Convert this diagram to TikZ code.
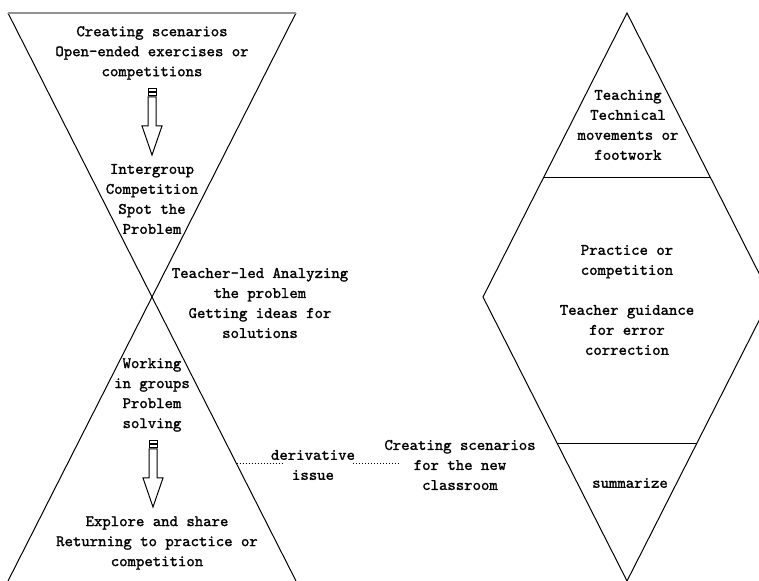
\documentclass[tikz,border=0pt]{standalone}
\usepackage{fontspec}
\newfontfamily\lblfont{lmmono10-regular.otf}[FakeBold=1.4]
\usetikzlibrary{calc}

\tikzset{
  lbl/.style={font=\lblfont\fontsize{8}{10}\selectfont, align=center, inner sep=0pt},
  edge/.style={line width=0.5pt},
}

\begin{document}
\begin{tikzpicture}[x=0.5pt, y=-0.5pt]
  \useasboundingbox (0,0) rectangle (759,581);
  \clip (0,0) rectangle (759,581);
  % hourglass
  \coordinate (tl) at (8,13);
  \coordinate (tr) at (296,13);
  \coordinate (mid) at (152,297);
  \coordinate (bl) at (8,581);
  \coordinate (br) at (296,581);
  \draw[edge] (tl) -- (br);
  \draw[edge] (tr) -- (bl);
  \draw[gray!85, line width=1.1pt] (tl) -- (tr);
  % rhombus
  \coordinate (top) at (627,13);
  \coordinate (lft) at (483,297);
  \coordinate (bot) at (627,581);
  \coordinate (rgt) at (771,297);
  \draw[edge] (top) -- (lft) -- (bot) -- (rgt) -- cycle;
  \draw[edge] ($(top)!165/284!(lft)$) -- ($(top)!165/284!(rgt)$);
  \draw[edge] ($(bot)!138/284!(lft)$) -- ($(bot)!138/284!(rgt)$);
  % block arrows
  \foreach \ax/\ay in {152/89, 153/441} {
    \draw[edge] (\ax-4,\ay) rectangle (\ax+4,\ay+2.5);
    \draw[edge] (\ax-4,\ay+4) rectangle (\ax+4,\ay+7);
    \draw[edge] (\ax-4,\ay+8) -- (\ax-4,\ay+37) -- (\ax-10,\ay+37) -- (\ax,\ay+66)
      -- (\ax+10,\ay+37) -- (\ax+4,\ay+37) -- (\ax+4,\ay+8) -- cycle;
  }
  % texts
  \node[lbl] (scen) at (152,53) {Creating scenarios\\Open-ended exercises or\\competitions};
  \node[lbl] (inter) at (152,199) {Intergroup\\Competition\\Spot the\\Problem};
  \node[lbl] (lead) at (260,303) {Teacher-led Analyzing\\the problem\\Getting ideas for\\solutions};
  \node[lbl] (work) at (152,395) {Working\\in groups\\Problem\\solving};
  \node[lbl] (share) at (157,543) {Explore and share\\Returning to practice or\\competition};
  \node[lbl] (deriv) at (313,465) {derivative\\issue};
  \node[lbl] (newcls) at (460,465) {Creating scenarios\\for the new\\classroom};
  \node[lbl] (teach) at (628,125) {Teaching\\Technical\\movements or\\footwork};
  \node[lbl] (pract) at (627,300) {Practice or\\competition\\[10pt]Teacher guidance\\for error\\correction};
  \node[lbl] (summ) at (630,483) {summarize};
  % dotted links
  \coordinate (hit) at ($(mid)!167/284!(br)$);
  \draw[edge, densely dotted] (hit) -- ([xshift=6pt]deriv.west |- hit);
  \draw[edge, densely dotted] ([xshift=-1pt]deriv.east |- hit) -- ([xshift=8pt]newcls.west |- hit);
\end{tikzpicture}
\end{document}
